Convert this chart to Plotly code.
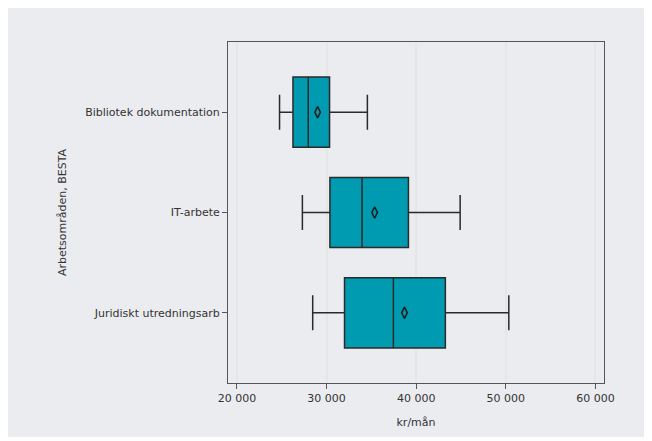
import plotly.graph_objects as go

categories = ["Bibliotek dokumentation", "IT-arbete", "Juridiskt utredningsarb"]
lower_whisker = [24750, 27300, 28450]
q1_vals = [26250, 30370, 32000]
median_vals = [27950, 33950, 37450]
q3_vals = [30330, 39130, 43250]
upper_whisker = [34550, 44900, 50330]
mean_vals = [29000, 35360, 38690]
tick_vals = [20000, 30000, 40000, 50000, 60000]
tick_text = ["20 000", "30 000", "40 000", "50 000", "60 000"]

# page has an 8px body margin, so the figure is a bit smaller than the window
W, H = 644, 433
ml, mr, mt, mb = 220, 48, 34, 58
pw, ph = W - ml - mr, H - mt - mb

fig = go.Figure()
fig.add_trace(go.Box(
    y=categories, q1=q1_vals, median=median_vals, q3=q3_vals,
    lowerfence=lower_whisker, upperfence=upper_whisker,
    orientation="h", fillcolor="#009bb0",
    line=dict(color="#2a2a2a", width=1.5),
    whiskerwidth=0.5, width=0.7, boxpoints=False, showlegend=False,
    hoverinfo="skip",
))
fig.add_trace(go.Scatter(
    x=mean_vals, y=categories, mode="markers",
    marker=dict(symbol="diamond-tall-open", size=8, color="#1a1a1a", line=dict(width=1.5)),
    showlegend=False, hoverinfo="skip",
))

# gray panel background (paper coords), white strip at right/bottom
fig.add_shape(type="rect", xref="paper", yref="paper",
              x0=(-10 - ml) / pw, x1=(639 - ml) / pw,
              y0=(H - mb - 429) / ph, y1=(H - mb + 10) / ph,
              fillcolor="#ebecef", line=dict(width=0), layer="below")

font = dict(family="DejaVu Sans, Verdana, sans-serif", size=11, color="#333333")
fig.update_layout(
    width=W, height=H, margin=dict(l=ml, r=mr, t=mt, b=mb),
    paper_bgcolor="white", plot_bgcolor="white", font=font,
    xaxis=dict(range=[19000, 60950], tickvals=tick_vals, ticktext=tick_text,
               showgrid=True, gridcolor="#e6e6e6", gridwidth=1.5,
               showline=True, linecolor="#555555", linewidth=1, mirror=True,
               ticks="outside", ticklen=5, tickcolor="#555555", zeroline=False,
               title=dict(text="kr/mån", standoff=14, font=font)),
    yaxis=dict(categoryorder="array", categoryarray=categories, autorange=False,
               range=[2.7, -0.7], showgrid=False,
               showline=True, linecolor="#555555", linewidth=1, mirror=True,
               ticks="outside", ticklen=5, tickcolor="#555555", zeroline=False,
               title=dict(text="Arbetsområden, BESTA", standoff=16, font=font)),
)
fig.write_html("out.html")
